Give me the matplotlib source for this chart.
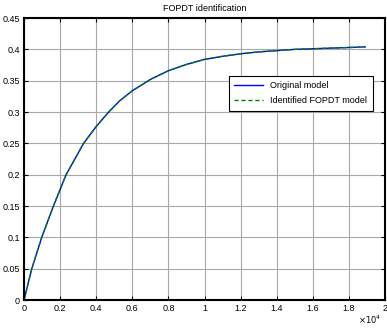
import matplotlib
matplotlib.use("Agg")
import matplotlib.pyplot as plt
import numpy as np

# values (x in samples, shown as x10^4)
t = [0, 430, 980, 1630, 2330, 3300, 4000, 4690, 5300, 6000, 7000, 8000, 9000, 10000,
     11000, 12000, 13000, 14000, 15000, 16000, 17000, 18000, 18900]
y_orig = [0, 0.05, 0.10, 0.15, 0.20, 0.25, 0.277, 0.30, 0.318, 0.334, 0.352, 0.366, 0.376, 0.384,
          0.389, 0.393, 0.396, 0.398, 0.400, 0.401, 0.402, 0.403, 0.404]
y_fopdt = [0, 0.05, 0.10, 0.15, 0.20, 0.25, 0.277, 0.30, 0.318, 0.334, 0.352, 0.366, 0.376, 0.384,
           0.389, 0.393, 0.396, 0.398, 0.400, 0.401, 0.402, 0.403, 0.404]

plt.rcParams['font.family'] = ['Liberation Sans', 'DejaVu Sans']
plt.rcParams['font.size'] = 6.5

fig = plt.figure(figsize=(3.87, 3.28), dpi=100)
ax = fig.add_axes([0.062, 0.085, 0.933, 0.86])

ax.plot(t, y_orig, color='#0000ff', lw=1.0, label='Original model')
ax.plot(t, y_fopdt, color='#008000', lw=1.0, ls=(0, (3, 2)), label='Identified FOPDT model')

ax.set_xlim(0, 20000)
ax.set_ylim(0, 0.45)
ax.set_xticks(np.arange(0, 20001, 2000))
ax.set_xticklabels(['0', '0.2', '0.4', '0.6', '0.8', '1', '1.2', '1.4', '1.6', '1.8', '2'])
ax.set_yticks(np.arange(0, 0.451, 0.05))
ax.set_yticklabels(['0', '0.05', '0.1', '0.15', '0.2', '0.25', '0.3', '0.35', '0.4', '0.45'])
ax.grid(True, color='#a8a8a8', lw=0.8)
ax.tick_params(direction='in', top=True, right=True, length=3, width=0.8, pad=3)
for s in ax.spines.values():
    s.set_linewidth(1.5)
ax.set_title('FOPDT identification', fontsize=6.5, pad=5)
fig.text(0.925, 0.025, r'$\times10^4$', fontsize=6, va='center')

leg = ax.legend(loc='upper right', bbox_to_anchor=(0.978, 0.812), fancybox=False,
                edgecolor='black', framealpha=1, handlelength=3.2, borderpad=0.6,
                labelspacing=0.7)
leg.get_frame().set_linewidth(0.8)

fig.savefig('out.png', dpi=100)
